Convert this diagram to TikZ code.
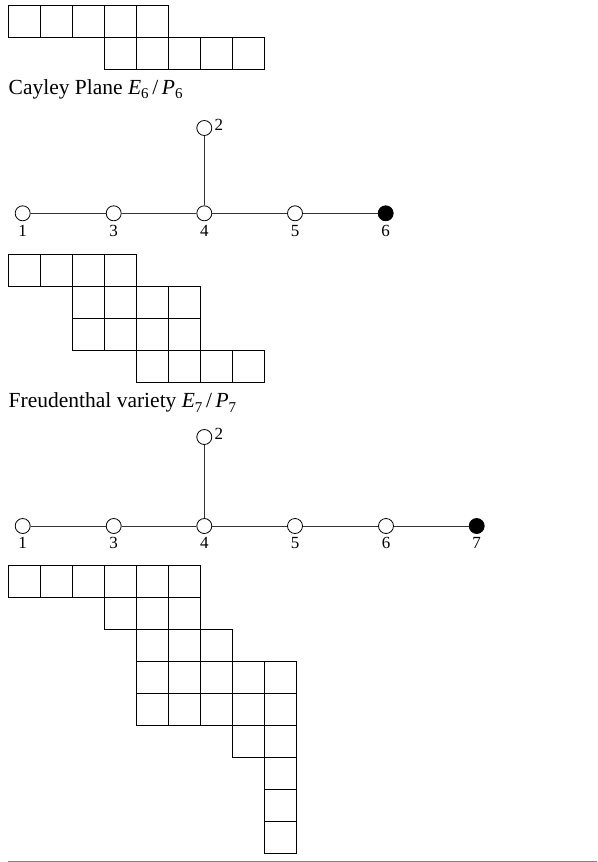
\documentclass[tikz,border=0pt]{standalone}
\usepackage{fontspec}
\setmainfont{Liberation Serif}
\newcommand\cellrow[3]{%
  \foreach \c in {#2,...,#3} \draw[cell] ({8+32*\c},#1) rectangle ++(32,32);}
\newcommand\subsc[1]{\raisebox{-0.22em}{\fontsize{15}{15}\selectfont #1}}
\begin{document}
\begin{tikzpicture}[x=1pt,y=-1pt,
  cell/.style={draw=black,line width=0.9pt},
  dnode/.style={circle,draw=black,fill=white,minimum size=15pt,inner sep=0pt,line width=0.8pt},
  dfill/.style={dnode,fill=black},
  dlab/.style={font=\fontsize{17}{17}\selectfont,inner sep=0pt,anchor=base},
  bond/.style={line width=0.8pt,draw=black!80},
  capt/.style={font=\fontsize{21.5}{22}\selectfont,inner sep=0pt,anchor=base west}]
\useasboundingbox (0,0) rectangle (597,862);
% Young diagram 1
\cellrow{5}{0}{4}
\cellrow{37}{3}{7}
\node[capt] (cap1) at (8.5,94) {Cayley Plane \textit{E}\subsc{6}\,/\,\textit{P}\subsc{6}};
% E6 Dynkin
\node[dnode] (a1) at (22.7,213.3) {};
\node[dnode] (a3) at (113.7,213.3) {};
\node[dnode] (a4) at (204.3,213.3) {};
\node[dnode] (a5) at (295,213.3) {};
\node[dfill] (a6) at (385.7,213.3) {};
\node[dnode] (a2) at (204.3,128) {};
\draw[bond] (a1) -- (a3); \draw[bond] (a3) -- (a4); \draw[bond] (a4) -- (a5); \draw[bond] (a5) -- (a6); \draw[bond] (a2) -- (a4);
\node[dlab] (la1) at (22.7,236.7) {1};
\node[dlab] (la3) at (113.7,236.7) {3};
\node[dlab] (la4) at (204.3,236.7) {4};
\node[dlab] (la5) at (295,236.7) {5};
\node[dlab] (la6) at (385.7,236.7) {6};
\node[dlab,anchor=base west] (la2) at (214.5,130.5) {2};
% Young diagram 2
\cellrow{254}{0}{3}
\cellrow{286}{2}{5}
\cellrow{318}{2}{5}
\cellrow{350}{4}{7}
\node[capt] (cap2) at (8.5,407.3) {Freudenthal variety \textit{E}\subsc{7}\,/\,\textit{P}\subsc{7}};
% E7 Dynkin
\node[dnode] (b1) at (22.7,526) {};
\node[dnode] (b3) at (113.7,526) {};
\node[dnode] (b4) at (204.3,526) {};
\node[dnode] (b5) at (295,526) {};
\node[dnode] (b6) at (386,526) {};
\node[dfill] (b7) at (476.7,526) {};
\node[dnode] (b2) at (204.3,437) {};
\draw[bond] (b1) -- (b3); \draw[bond] (b3) -- (b4); \draw[bond] (b4) -- (b5); \draw[bond] (b5) -- (b6); \draw[bond] (b6) -- (b7); \draw[bond] (b2) -- (b4);
\node[dlab] (lb1) at (22.7,548.5) {1};
\node[dlab] (lb3) at (113.7,548.5) {3};
\node[dlab] (lb4) at (204.3,548.5) {4};
\node[dlab] (lb5) at (295,548.5) {5};
\node[dlab] (lb6) at (386,548.5) {6};
\node[dlab] (lb7) at (476.7,548.5) {7};
\node[dlab,anchor=base west] (lb2) at (214.5,439.5) {2};
% Young diagram 3
\cellrow{565.7}{0}{5}
\cellrow{597.7}{3}{5}
\cellrow{629.7}{4}{6}
\cellrow{661.7}{4}{8}
\cellrow{693.7}{4}{8}
\cellrow{725.7}{7}{8}
\cellrow{757.7}{8}{8}
\cellrow{789.7}{8}{8}
\cellrow{821.7}{8}{8}
% bottom rule
\draw[draw=gray,line width=1.3pt] (8,861.3) -- (597,861.3);
\end{tikzpicture}
\end{document}
